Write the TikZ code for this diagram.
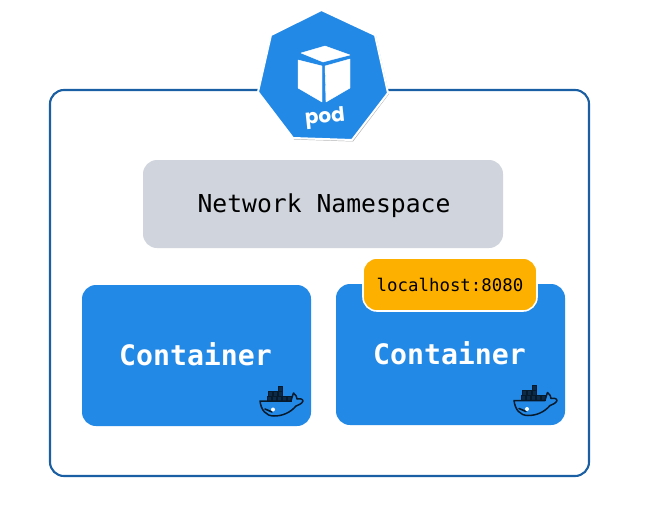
\documentclass[tikz,border=0pt]{standalone}
\usepackage{fontspec}
\setmonofont{DejaVu Sans Mono}
\newfontfamily\podfont{Poppins}
\definecolor{podblue}{HTML}{2389E6}
\definecolor{framblue}{HTML}{1A5FA3}
\definecolor{nsgray}{HTML}{D0D4DC}
\definecolor{portamber}{HTML}{FDB000}
\definecolor{whaleink}{HTML}{071A2C}
\tikzset{
    framebox/.style={draw=framblue, line width=2.1pt, rounded corners=14pt, fill=white, minimum width=539pt, minimum height=386pt, inner sep=0pt},
    nsbox/.style={fill=nsgray, rounded corners=14pt, minimum width=360pt, minimum height=88pt, inner sep=0pt, text height=21pt, text depth=5pt, font=\ttfamily\fontsize{24.7}{28}\selectfont},
    ctbox/.style={fill=podblue, rounded corners=14pt, minimum width=229pt, minimum height=141pt, inner sep=0pt, text=white, text height=19pt, text depth=0pt, font=\ttfamily\bfseries\fontsize{28.2}{32}\selectfont},
    portbox/.style={draw=white, line width=1.6pt, fill=portamber, rounded corners=14pt, minimum width=174pt, minimum height=53pt, inner sep=0pt, font=\ttfamily\fontsize{17.4}{20}\selectfont},
    cubeface/.style={fill=white, draw=white, line width=0.4pt, line join=round},
    whale/.pic={
        \foreach \cx/\cy in {8/-10,13/-10,18/-10,18/-15,7/-5,12/-5,17/-5,22/-5,27/-5}
            \draw[whaleink, fill=whaleink!85!podblue, line width=0.7pt] (\cx,\cy) rectangle (\cx+4.5,\cy+5);
        \draw[whaleink, line width=1.5pt, line join=round, line cap=round] (0,0) -- (31,0) .. controls (32,-4) and (33,-6) .. (33.5,-8) .. controls (36,-6) and (37,-4) .. (37,-2) .. controls (39,-3) and (43,-2) .. (43,0) .. controls (42,3) and (38,4) .. (36,5) .. controls (30,12) and (22,15) .. (14,15) .. controls (6,15) and (1,9) .. (0,0) -- cycle;
        \draw[whaleink, line width=1.6pt, line cap=round] (5,8) -- (12,11);
        \fill[white] (13,8.5) circle [radius=2pt];
    }
}

\begin{document}
\begin{tikzpicture}[x=1pt, y=-1pt]
    \useasboundingbox (0,0) rectangle (658,522);
    \fill[white] (0,0) rectangle (658,522);

    \node[framebox] (frame) at (319.5,283) {};
    \node[nsbox] (netns) at (323,204) {\hspace{2pt}Network Namespace};
    \node[ctbox] (ctleft) at (196.5,355.5) {\hspace{-2pt}Container};
    \node[ctbox] (ctright) at (450.5,354.5) {\hspace{-2pt}Container};
    \node[portbox] (port) at (450,284.5) {localhost:8080};

    \pic at (260,401) {whale};
    \pic at (514,400.5) {whale};

    % pod badge
    \fill[black!30] (322.5,11) -- (376,36) -- (389,94) -- (353,141.5) -- (294,139.5) -- (259,93) -- (272,36) -- cycle;
    \draw[white, line width=2pt, line join=round, fill=podblue] (321.5,10) -- (375,35) -- (388,93) -- (352,140) -- (293,138) -- (258,92) -- (271,35) -- cycle;

    \draw[cubeface] (325,46) -- (350,55) -- (323,62) -- (301,53) -- cycle;
    \draw[cubeface] (298,60) -- (322,66) -- (322,102) -- (298,88) -- cycle;
    \draw[cubeface] (325,66) -- (350,59) -- (350,88) -- (326,102) -- cycle;
    \node[text=white, rotate=6, inner sep=0pt, font=\podfont\bfseries\fontsize{20}{24}\selectfont] (podlabel) at (325,118) {pod};
\end{tikzpicture}
\end{document}
